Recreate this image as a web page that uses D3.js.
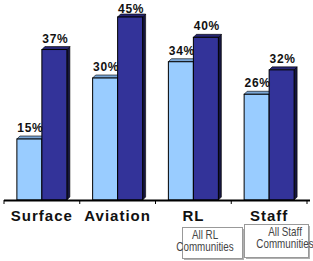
<!DOCTYPE html>
<html>
<head>
<meta charset="utf-8">
<script src="https://cdn.jsdelivr.net/npm/d3@7"></script>
<style>
  body { margin: 0; background: #fff; }
  svg { display: block; }
</style>
</head>
<body>
<div id="chart"></div>
<script>
// chart data
let categories = ["Surface", "Aviation", "RL", "Staff"];
let seriesNames = ["before", "after"];
let lightValues = [15, 30, 34, 26];
let darkValues = [37, 45, 40, 32];
let noteCats = ["RL", "Staff"];
let noteLines = [["All RL", "Communities"], ["All Staff", "Communities"]];

let width = 313,
	height = 261;
let baseY = 200;
let depth = 3;
let colors = ["#99ccff", "#333399"];
let topColors = ["#7aa6d6", "#262673"];
let sideColors = ["#5f86b3", "#15153f"];

let svg = d3.select("#chart").append("svg")
	.attr("width", width)
	.attr("height", height);

let xScale = d3.scaleBand()
	.domain(categories)
	.range([4, 307]);

let inner = d3.scaleBand()
	.domain(seriesNames)
	.range([0, xScale.bandwidth()])
	.paddingOuter(0.515);

let yScale = d3.scaleLinear()
	.domain([0, 45])
	.range([baseY, 17]);

let rows = [];
categories.forEach((c, i) => {
	rows.push({cat: c, s: 0, v: lightValues[i]});
	rows.push({cat: c, s: 1, v: darkValues[i]});
});

let bw = inner.bandwidth();
let bx = d => xScale(d.cat) + inner(seriesNames[d.s]);

let bars = svg.append("g").selectAll("g")
	.data(rows)
	.enter()
	.append("g");

// side face
bars.append("path")
	.attr("d", d => {
		let x = bx(d) + bw, y = yScale(d.v);
		return `M${x},${y} L${x + depth},${y - depth} L${x + depth},${baseY - depth} L${x},${baseY} Z`;
	})
	.attr("fill", d => sideColors[d.s])
	.attr("stroke", "#000")
	.attr("stroke-width", 0.6);

// top face
bars.append("path")
	.attr("d", d => {
		let x = bx(d), y = yScale(d.v);
		return `M${x},${y} L${x + depth},${y - depth} L${x + bw + depth},${y - depth} L${x + bw},${y} Z`;
	})
	.attr("fill", d => topColors[d.s])
	.attr("stroke", "#000")
	.attr("stroke-width", 0.6);

// front face
bars.append("rect")
	.attr("x", bx)
	.attr("y", d => yScale(d.v))
	.attr("width", bw)
	.attr("height", d => baseY - yScale(d.v))
	.attr("fill", d => colors[d.s])
	.attr("stroke", "#000")
	.attr("stroke-width", 1);

// value labels
svg.append("g").selectAll("text")
	.data(rows)
	.enter()
	.append("text")
	.attr("x", d => bx(d) + bw / 2 + 1)
	.attr("y", d => Math.max(yScale(d.v) - 7, 13))
	.attr("text-anchor", "middle")
	.attr("font-family", "Arial, 'Liberation Sans', sans-serif")
	.attr("font-weight", "bold")
	.attr("font-size", "12px")
	.attr("letter-spacing", "0.8px")
	.attr("fill", "#111")
	.text(d => d.v + "%");

// axis
let axisG = svg.append("g");
axisG.append("line")
	.attr("x1", 4).attr("x2", 310)
	.attr("y1", baseY + 0.5).attr("y2", baseY + 0.5)
	.attr("stroke", "#000")
	.attr("stroke-width", 2);
let tickXs = categories.map(c => xScale(c)).concat([xScale.range()[1]]);
axisG.selectAll(".tick")
	.data(tickXs)
	.enter()
	.append("line")
	.attr("x1", d => d).attr("x2", d => d)
	.attr("y1", baseY).attr("y2", baseY + 4)
	.attr("stroke", "#000")
	.attr("stroke-width", 1);

// category labels
svg.append("g").selectAll("text")
	.data(categories)
	.enter()
	.append("text")
	.attr("x", c => xScale(c) + xScale.bandwidth() / 2)
	.attr("y", 221)
	.attr("text-anchor", "middle")
	.attr("font-family", "Arial, 'Liberation Sans', sans-serif")
	.attr("font-weight", "bold")
	.attr("font-size", "15px")
	.attr("letter-spacing", "1px")
	.attr("fill", "#111")
	.text(c => c);

// note boxes
let boxes = [
	{cat: noteCats[0], lines: noteLines[0], x: 182, y: 227, w: 60, h: 31, tx: 205},
	{cat: noteCats[1], lines: noteLines[1], x: 244, y: 224, w: 64, h: 33, tx: 285}
];
let notes = svg.append("g").selectAll("g")
	.data(boxes)
	.enter()
	.append("g");
notes.append("rect")
	.attr("x", d => d.x + 2).attr("y", d => d.y + 2)
	.attr("width", d => d.w).attr("height", d => d.h)
	.attr("fill", "#b0b0b0");
notes.append("rect")
	.attr("x", d => d.x + 0.5).attr("y", d => d.y + 0.5)
	.attr("width", d => d.w).attr("height", d => d.h)
	.attr("fill", "#fff")
	.attr("stroke", "#999")
	.attr("stroke-width", 1);
notes.each(function(d) {
	let g = d3.select(this);
	d.lines.forEach((ln, i) => {
		g.append("text")
			.attr("transform", `translate(${d.tx},${d.y + 12 + i * 12}) scale(0.82,1)`)
			.attr("text-anchor", "middle")
			.attr("font-family", "Arial, 'Liberation Sans', sans-serif")
			.attr("font-size", "12px")
			.attr("fill", "#444")
			.text(ln);
	});
});
</script>
</body>
</html>
